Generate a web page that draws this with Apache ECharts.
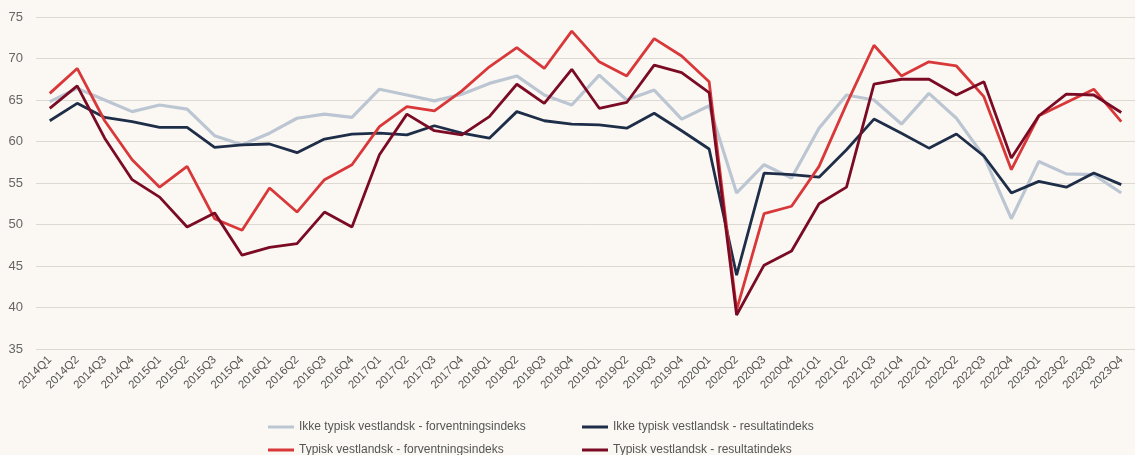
<!DOCTYPE html>
<html>
<head>
<meta charset="utf-8">
<script src="https://cdn.jsdelivr.net/npm/echarts@6/dist/echarts.min.js"></script>
<style>
html,body{margin:0;padding:0;background:#fbf8f3;}
#c{width:1135px;height:455px;}
</style>
</head>
<body>
<div id="c"></div>
<script>
const categories = ["2014Q1","2014Q2","2014Q3","2014Q4","2015Q1","2015Q2","2015Q3","2015Q4","2016Q1","2016Q2","2016Q3","2016Q4","2017Q1","2017Q2","2017Q3","2017Q4","2018Q1","2018Q2","2018Q3","2018Q4","2019Q1","2019Q2","2019Q3","2019Q4","2020Q1","2020Q2","2020Q3","2020Q4","2021Q1","2021Q2","2021Q3","2021Q4","2022Q1","2022Q2","2022Q3","2022Q4","2023Q1","2023Q2","2023Q3","2023Q4"];

const seriesNames = ["Ikke typisk vestlandsk - forventningsindeks","Ikke typisk vestlandsk - resultatindeks","Typisk vestlandsk - forventningsindeks","Typisk vestlandsk - resultatindeks"];

const ikkeForventning = [64.8,66.4,65.0,63.6,64.4,63.9,60.7,59.6,61.0,62.8,63.3,62.9,66.3,65.6,64.9,65.7,67.0,67.9,65.6,64.4,68.0,65.0,66.2,62.7,64.3,53.8,57.2,55.6,61.6,65.6,65.0,62.1,65.8,62.8,58.2,50.7,57.6,56.1,56.0,53.8];
const ikkeResultat = [62.5,64.6,62.9,62.4,61.7,61.7,59.3,59.6,59.7,58.65,60.3,60.9,61.0,60.8,61.9,61.0,60.4,63.6,62.5,62.1,62.0,61.6,63.4,61.3,59.1,43.9,56.2,56.0,55.7,59.0,62.7,61.0,59.2,60.9,58.25,53.8,55.2,54.5,56.2,54.8];
const typiskForventning = [65.8,68.8,62.5,57.8,54.5,57.0,50.7,49.3,54.4,51.5,55.4,57.2,61.8,64.2,63.7,66.1,69.0,71.3,68.8,73.3,69.6,67.9,72.4,70.3,67.2,39.7,51.3,52.2,57.0,64.5,71.6,67.9,69.6,69.1,65.4,56.6,63.1,64.7,66.3,62.4];
const typiskResultat = [64.0,66.7,60.4,55.4,53.3,49.7,51.4,46.3,47.25,47.7,51.5,49.7,58.4,63.3,61.3,60.8,63.0,66.9,64.6,68.7,64.0,64.7,69.2,68.3,65.9,39.1,45.1,46.8,52.5,54.5,66.9,67.5,67.5,65.6,67.2,58.0,63.1,65.7,65.6,63.5];

const yTicks = {min:35, max:75, interval:5};

const colors = ["#bcc6d3","#1f2e48","#d9383a","#7b0b24"];
const dataList = [ikkeForventning, ikkeResultat, typiskForventning, typiskResultat];

const chart = echarts.init(document.getElementById('c'));
const font = "'Liberation Sans', Arial, sans-serif";
const legendPos = [{left:263, top:416},{left:577, top:416},{left:263, top:439},{left:577, top:439}];
const legends = seriesNames.map((n,i)=>({
  left: legendPos[i].left, top: legendPos[i].top,
  data:[n],
  itemWidth: 26, itemHeight: 3, itemTextGap: 2,
  icon: 'rect',
  textStyle: {color:'#555', fontSize:12, fontFamily:font}
}));
chart.setOption({
  backgroundColor: '#fbf8f3',
  animation: false,
  color: colors,
  grid: {left:36, top:17, width:1112, height:332},
  legend: legends,
  xAxis: {
    type:'category',
    data: categories,
    boundaryGap: true,
    axisLine:{show:false},
    axisTick:{show:false},
    axisLabel:{interval:0, rotate:45, margin:9, color:'#555', fontSize:11.5, fontFamily:font}
  },
  yAxis: {
    type:'value',
    min: yTicks.min, max: yTicks.max, interval: yTicks.interval,
    axisLine:{show:false},
    axisTick:{show:false},
    axisLabel:{margin:13, color:'#666', fontSize:13, fontFamily:font},
    splitLine:{lineStyle:{color:'#dcd8d2', width:1}}
  },
  series: seriesNames.map((n,i)=>({
    name:n, type:'line', data:dataList[i], symbol:'none',
    lineStyle:{width: i===0 ? 3.2 : 2.8, color:colors[i]},
    itemStyle:{color:colors[i]}
  }))
});
</script>
</body>
</html>
